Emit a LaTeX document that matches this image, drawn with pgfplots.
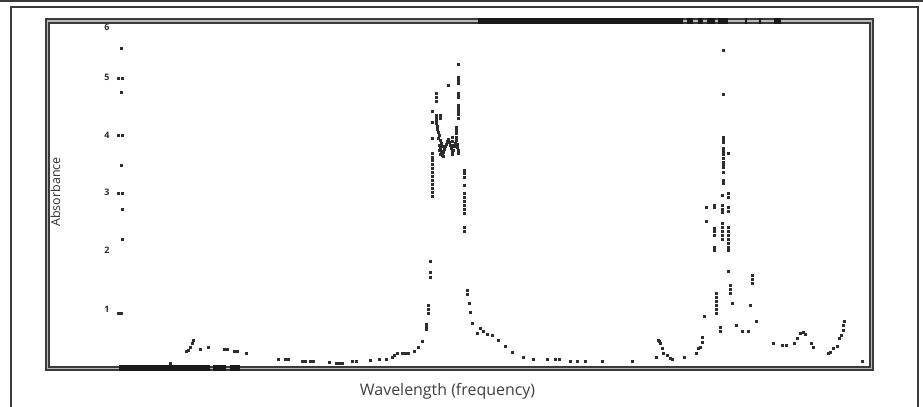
\documentclass[border=0pt]{standalone}
\usepackage{pgfplots}
\pgfplotsset{compat=1.18}
\usepackage{fontspec}
\setmainfont{Open Sans}
\definecolor{dot}{HTML}{2E2E2E}
\definecolor{frame}{HTML}{3A3A3A}
\begin{document}
\begin{tikzpicture}
\begin{axis}[
  scale only axis, x=1bp, y=58.5bp,
  xmin=47.5, xmax=871.5, ymin=0, ymax=5.94,
  clip=false,
  axis line style={draw=none},
  xtick=\empty,
  ytick={1.017,2.026,3.017,3.991,4.983,5.838},
  yticklabels={1,2,3,4,5,6},
  major tick length=0pt,
  /pgf/number format/assume math mode=true,
  yticklabel style={anchor=center, xshift=59.5bp, font=\fontsize{9}{9}\selectfont\bfseries, text=dot},
  ylabel={Absorbance},
  ylabel style={at={(rel axis cs:0.0095,0.508)}, anchor=center, rotate=0, font=\fontsize{12.5}{12.5}\selectfont, text=dot},
  xlabel={Wavelength (frequency)},
  xlabel style={at={(rel axis cs:0.4855,-0.0763)}, anchor=base, font=\fontsize{16}{16}\selectfont, text=black!75},
]
% frames
\draw[line width=2bp, frame] (axis cs:0,6.282) -- (axis cs:923,6.282);
\draw[line width=1.4bp, frame] (axis cs:11,-0.8) -- (axis cs:11,6.179) -- (axis cs:918,6.179) -- (axis cs:918,-0.8);
\draw[line width=5.5bp, frame] (rel axis cs:0,0) rectangle (rel axis cs:1,1);
\draw[line width=1.5bp, gray!55] (rel axis cs:0,0) rectangle (rel axis cs:1,1);
% frame artifacts
\draw[line width=6bp, black!90] (axis cs:119,0) -- (axis cs:210,0);
\draw[line width=6bp, black!90] (axis cs:213,0) -- (axis cs:226,0) (axis cs:230,0) -- (axis cs:240,0);
\draw[line width=6bp, black!90] (axis cs:478,5.94) -- (axis cs:683,5.94);
\draw[line width=6bp, black!90] (axis cs:687,5.94) -- (axis cs:693,5.94) (axis cs:698,5.94) -- (axis cs:703,5.94) (axis cs:707,5.94) -- (axis cs:715,5.94) (axis cs:718,5.94) -- (axis cs:728,5.94);
\draw[line width=6bp, black!90] (axis cs:745,5.94) -- (axis cs:747,5.94) (axis cs:759,5.94) -- (axis cs:761,5.94) (axis cs:774,5.94) -- (axis cs:781,5.94);
% axis dots
\addplot[only marks, mark=square*, mark size=0.95bp, dot] coordinates {
(121,5.479) (121,4.726) (121,3.479) (122,2.726) (122,2.214)
(118,4.966) (122,4.966) (118,3.991) (122,3.991) (118,3.000) (122,3.000)
(118,0.949) (121,0.949)
};
% spectrum
\addplot[only marks, mark=square*, mark size=0.95bp, dot] table {
x y
170 0.094
186 0.299
188 0.316
190 0.368
192 0.436
193 0.487
200 0.333
208 0.368
224 0.333
227 0.333
234 0.299
237 0.299
246 0.265
278 0.162
285 0.162
288 0.162
302 0.128
305 0.128
310 0.128
313 0.128
329 0.111
336 0.094
339 0.094
342 0.094
352 0.128
356 0.128
370 0.145
379 0.162
386 0.162
392 0.197
394 0.231
397 0.265
402 0.265
405 0.265
408 0.265
414 0.299
418 0.368
422 0.470
426 0.675
426 0.726
426 0.761
428 0.949
428 1.017
428 1.085
430 1.564
430 1.650
430 1.838
432 2.949
432 3.017
432 3.085
432 3.154
432 3.222
432 3.291
432 3.359
432 3.427
432 3.496
432 3.564
432 3.615
432 3.684
432 3.940
432 4.214
432 4.402
436 4.709
436 4.641
436 4.573
436 4.333
436 4.282
436 4.231
440 4.333
440 4.282
436 4.197
437 4.145
437 4.094
438 4.043
439 3.991
438 3.940
440 3.906
441 3.855
439 3.821
440 3.769
442 3.803
441 3.718
440 3.667
442 3.650
443 3.701
444 3.752
445 3.803
446 3.838
447 3.889
448 3.923
449 3.872
450 3.821
451 3.769
452 3.718
452 3.667
453 3.735
454 3.803
455 3.855
456 3.906
457 3.838
457 3.786
458 3.735
458 3.684
439 3.735
443 3.632
452 3.957
452 3.889
452 3.821
448 4.846
458 5.205
458 4.983
458 4.932
458 4.880
458 4.709
458 4.675
458 4.641
458 4.504
458 4.453
458 4.402
458 4.350
458 4.282
456 4.128
456 4.077
456 4.026
456 3.957
464 3.393
464 3.342
464 3.274
464 3.137
464 3.000
464 2.932
464 2.863
464 2.795
464 2.726
464 2.658
464 2.419
464 2.350
467 1.342
467 1.274
469 1.120
470 0.966
472 0.778
477 0.607
480 0.692
483 0.641
487 0.590
492 0.573
498 0.487
505 0.385
512 0.282
523 0.197
533 0.162
547 0.162
555 0.162
559 0.162
570 0.128
577 0.128
585 0.128
602 0.128
632 0.128
656 0.197
658 0.487
659 0.470
660 0.436
662 0.350
663 0.265
667 0.231
670 0.179
672 0.162
684 0.197
696 0.265
698 0.350
700 0.368
702 0.453
702 0.538
704 0.897
706 2.761
706 2.521
714 2.795
714 2.761
714 2.402
714 2.350
714 2.282
714 2.077
714 2.026
716 1.291
716 1.222
716 1.154
716 1.085
716 1.017
716 0.949
720 0.709
720 0.641
722 2.795
722 2.726
722 2.675
722 2.487
722 2.419
722 2.350
722 2.282
722 2.214
728 2.761
728 2.692
728 2.419
728 2.350
728 2.282
728 2.214
728 2.145
728 2.077
728 2.026
728 1.667
730 1.427
730 1.359
730 1.291
732 1.120
736 0.744
742 0.641
748 0.641
750 1.085
752 1.598
752 1.530
752 1.462
756 0.812
773 0.436
782 0.402
786 0.402
794 0.436
797 0.521
800 0.607
803 0.624
805 0.590
811 0.436
813 0.368
828 0.265
830 0.282
833 0.350
837 0.385
839 0.521
841 0.573
843 0.658
843 0.744
844 0.812
862 0.128
723 5.444
723 4.692
723 3.957
723 3.906
723 3.872
723 3.769
723 3.718
723 3.667
723 3.598
728 3.684
723 3.530
723 3.479
723 3.444
723 3.359
723 3.222
723 3.171
722 2.966
728 3.000
728 2.932
};
\coordinate (BL) at (axis cs:0,-0.658);
\coordinate (TR) at (axis cs:923,6.299);
\end{axis}
\pgfresetboundingbox
\path[use as bounding box] (BL) rectangle (TR);
\end{tikzpicture}
\end{document}
